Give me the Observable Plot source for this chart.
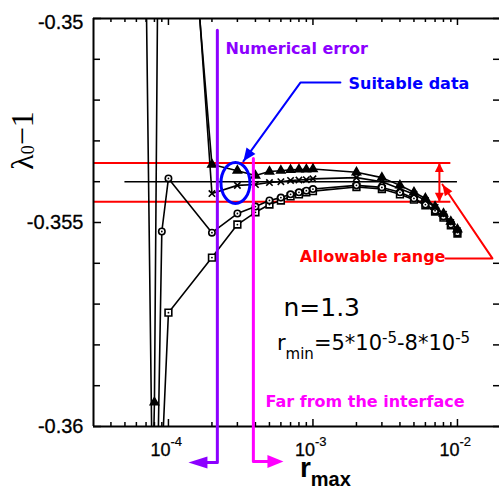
<!DOCTYPE html>
<html><head><meta charset="utf-8">
<script src="https://cdn.jsdelivr.net/npm/d3@7"></script>
<script src="https://cdn.jsdelivr.net/npm/@observablehq/plot@0.6"></script>
<style>html,body{margin:0;padding:0;background:#fff;} svg{display:block;}</style>
</head><body><div id="chart"></div>
<script>
// ---------- data ----------
const rGrid = [2e-4,3e-4,4e-4,5e-4,6e-4,7e-4,8e-4,9e-4,1e-3,2e-3,3e-3,4e-3,5e-3,6e-3,7e-3,8e-3,9e-3,1e-2];
const triR = [7e-5,8e-5,9e-5,1e-4,...rGrid];
const triV = [-0.3693,-0.35941,-0.3362,-0.3408,-0.35358,-0.35373,-0.35385,-0.35375,-0.35373,-0.35371,-0.3537,-0.3537,-0.35369,-0.35377,-0.3539,-0.35409,-0.35426,-0.35441,-0.35461,-0.35478,-0.35498,-0.35517];
const crossR = [1e-4,...rGrid];
const crossV = [-0.3389,-0.35429,-0.35409,-0.35407,-0.35402,-0.354,-0.35397,-0.35396,-0.35395,-0.35393,-0.3539,-0.354,-0.35417,-0.35431,-0.35446,-0.35463,-0.3548,-0.355,-0.3552];
const circR = [7e-5,8e-5,9e-5,1e-4,...rGrid];
const circV = [-0.349,-0.3656,-0.35522,-0.35392,-0.35525,-0.35478,-0.35461,-0.35446,-0.35439,-0.35431,-0.35426,-0.35422,-0.35418,-0.35409,-0.35414,-0.35426,-0.35441,-0.35456,-0.35471,-0.35485,-0.35505,-0.35525];
const sqR = [9e-5,1e-4,...rGrid];
const sqV = [-0.36088,-0.35721,-0.35586,-0.35505,-0.35475,-0.35456,-0.35446,-0.35436,-0.35431,-0.35426,-0.35423,-0.35413,-0.35418,-0.35431,-0.35444,-0.35458,-0.35473,-0.35488,-0.35507,-0.35527];

const refLevel = -0.354;            // black reference line
const refRange = [5e-5, 1e-2];
const allowBand = [-0.35354, -0.35449];  // red lines
const allowX = [3.03e-5, 9e-3];

const xTicksMajor = [1e-4, 1e-3, 1e-2];
const xTickExp = ["-4", "-3", "-2"];
const xTicksMinor = [4e-5,5e-5,6e-5,7e-5,8e-5,9e-5,2e-4,3e-4,4e-4,5e-4,6e-4,7e-4,8e-4,9e-4,2e-3,3e-3,4e-3,5e-3,6e-3,7e-3,8e-3,9e-3];
const yTicksMajor = [-0.35, -0.355, -0.36];
const yTickLabels = ["-0.35", "-0.355", "-0.36"];
const yTicksMinor = [-0.351,-0.352,-0.353,-0.354,-0.356,-0.357,-0.358,-0.359];

// annotation geometry (data coordinates)
const purplePath = [{x:2.18e-4,y:-0.35029},{x:2.18e-4,y:-0.36088},{x:1.54e-4,y:-0.36088}];
const purpleTip = {x:1.375e-4, y:-0.36088};
const magentaPath = [{x:3.87e-4,y:-0.35343},{x:3.87e-4,y:-0.36086},{x:5.6e-4,y:-0.36086}];
const magentaTip = {x:6.25e-4, y:-0.36086};
const bluePath = [{x:1.549e-3,y:-0.35157},{x:8.19e-4,y:-0.35157},{x:3.30e-4,y:-0.3535}];
const blueEllipse = {x:2.909e-4, y:-0.35403};
const redLeader = [{x:7.87e-3,y:-0.35407},{x:1.746e-2,y:-0.35588},{x:8.26e-3,y:-0.35588}];
const redArrowX = 7.5e-3;

const textsStart = [
  {x:2.48e-4, y:-0.350858, t:"Numerical error", c:"#8c00ff"},
  {x:1.761e-3, y:-0.35174, t:"Suitable data", c:"#0000ff"},
  {x:4.69e-4, y:-0.35953, t:"Far from the interface", c:"#ff00ff"}
];
const textsEnd = [
  {x:8.26e-3, y:-0.35596, t:"Allowable range", c:"#ff0000"}
];
const nLabel = {x:6.25e-4, y:-0.35728, t:"n=1.3"};
const rminLabel = {x:5.68e-4, y:-0.35814};

// ---------- helpers ----------
const mk = (R, V) => R.map((r, i) => ({r, v: V[i]}));
const tri = mk(triR, triV), crs = mk(crossR, crossV), cir = mk(circR, circV), sq = mk(sqR, sqV);

function head(angle, L, w) {
  const a = angle * Math.PI / 180, c = Math.cos(a), s = Math.sin(a);
  const rot = (x, y) => [x * c - y * s, x * s + y * c];
  return {draw(ctx) {
    const p1 = rot(-w, L), p2 = rot(w, L);
    ctx.moveTo(0, 0); ctx.lineTo(p1[0], p1[1]); ctx.lineTo(p2[0], p2[1]); ctx.closePath();
  }};
}
function ellipse(rx, ry) {
  const k = 0.5523;
  return {draw(ctx) {
    ctx.moveTo(rx, 0);
    ctx.bezierCurveTo(rx, ry * k, rx * k, ry, 0, ry);
    ctx.bezierCurveTo(-rx * k, ry, -rx, ry * k, -rx, 0);
    ctx.bezierCurveTo(-rx, -ry * k, -rx * k, -ry, 0, -ry);
    ctx.bezierCurveTo(rx * k, -ry, rx, -ry * k, rx, 0);
    ctx.closePath();
  }};
}

const W = 499, H = 493, mL = 93, mR = 0, mT = 18, mB = 67;
const iw = W - mL - mR, ih = H - mT - mB;
const SANS = "Liberation Sans, Arial, sans-serif";
const DJ = "DejaVu Sans, Verdana, sans-serif";

const seriesLine = d => Plot.line(d, {x: "r", y: "v", stroke: "black", strokeWidth: 1.6, clip: true});

const plot = Plot.plot({
  width: W, height: H,
  marginLeft: mL, marginRight: mR, marginTop: mT, marginBottom: mB,
  x: {type: "log", domain: [3.03e-5, 1.954e-2], axis: null},
  y: {domain: [-0.36, -0.35], axis: null},
  style: {background: "white", overflow: "visible"},
  marks: [
    // reference lines
    Plot.ruleY(allowBand, {x1: allowX[0], x2: allowX[1], stroke: "#ff0000", strokeWidth: 2}),
    Plot.ruleY([refLevel], {x1: refRange[0], x2: refRange[1], stroke: "black", strokeWidth: 1.6}),
    // series
    seriesLine(sq), seriesLine(cir), seriesLine(crs), seriesLine(tri),
    Plot.dot(sq, {x: "r", y: "v", symbol: "square", r: 3.8, fill: "white", stroke: "black", strokeWidth: 1.6, clip: true}),
    Plot.dot(sq, {x: "r", y: "v", r: 0.9, fill: "black", clip: true}),
    Plot.dot(cir, {x: "r", y: "v", symbol: "circle", r: 3.2, fill: "white", stroke: "black", strokeWidth: 1.6, clip: true}),
    Plot.dot(cir, {x: "r", y: "v", r: 0.9, fill: "black", clip: true}),
    Plot.dot(crs, {x: "r", y: "v", symbol: "times", r: 3, stroke: "black", strokeWidth: 1.6, clip: true}),
    Plot.dot(tri, {x: "r", y: "v", symbol: "triangle", r: 3.1, fill: "black", stroke: "black", clip: true}),
    // frame
    Plot.ruleX([3.03e-5], {stroke: "black", strokeWidth: 2}),
    Plot.ruleY([-0.35, -0.36], {stroke: "black", strokeWidth: 2}),
    // ticks (inward)
    Plot.tickX(xTicksMajor, {x: d => d, insetTop: ih - 7, stroke: "black", strokeWidth: 1.5}),
    Plot.tickX(xTicksMajor, {x: d => d, insetBottom: ih - 7, stroke: "black", strokeWidth: 1.5}),
    Plot.tickX(xTicksMinor, {x: d => d, insetTop: ih - 4, stroke: "black", strokeWidth: 1.5}),
    Plot.tickX(xTicksMinor, {x: d => d, insetBottom: ih - 4, stroke: "black", strokeWidth: 1.5}),
    Plot.tickY(yTicksMajor, {y: d => d, insetRight: iw - 8, stroke: "black", strokeWidth: 1.5}),
    Plot.tickY(yTicksMinor, {y: d => d, insetRight: iw - 7, stroke: "black", strokeWidth: 1.5}),
    Plot.tickY([...yTicksMajor, ...yTicksMinor], {y: d => d, insetLeft: iw - 6, stroke: "black", strokeWidth: 1.5}),
    // tick labels
    Plot.text(yTicksMajor.slice(0, 1), {y: d => d, frameAnchor: "left", text: () => yTickLabels[0], textAnchor: "end", dx: -10, dy: 4.5, fontSize: 20, fontFamily: SANS, fill: "black", stroke: "black", strokeWidth: 0.3}),
    Plot.text(yTicksMajor.slice(1), {y: d => d, frameAnchor: "left", text: (d, i) => yTickLabels[i + 1], textAnchor: "end", dx: -10, fontSize: 20, fontFamily: SANS, fill: "black", stroke: "black", strokeWidth: 0.3}),
    Plot.text(xTicksMajor, {x: d => d, frameAnchor: "bottom", text: () => "10", textAnchor: "end", lineAnchor: "bottom", dx: 2, dy: 29, fontSize: 18, fontFamily: SANS, fill: "black", stroke: "black", strokeWidth: 0.3}),
    Plot.text(xTicksMajor, {x: d => d, frameAnchor: "bottom", text: (d, i) => xTickExp[i], textAnchor: "start", lineAnchor: "bottom", dx: 2, dy: 19, fontSize: 13, fontFamily: SANS, fill: "black", stroke: "black", strokeWidth: 0.2}),
    // annotations
    Plot.line(purplePath, {x: "x", y: "y", stroke: "#8c00ff", strokeWidth: 3}),
    Plot.dot([purpleTip], {x: "x", y: "y", r: 1, symbol: head(270, 19, 6), fill: "#8c00ff", stroke: "none"}),
    Plot.line(magentaPath, {x: "x", y: "y", stroke: "#ff00ff", strokeWidth: 3}),
    Plot.dot([magentaTip], {x: "x", y: "y", r: 1, symbol: head(90, 16, 6.5), fill: "#ff00ff", stroke: "none"}),
    Plot.dot([blueEllipse], {x: "x", y: "y", r: 1, symbol: ellipse(14.5, 20.5), fill: "none", stroke: "#0000ff", strokeWidth: 3}),
    Plot.line(bluePath, {x: "x", y: "y", stroke: "#0000ff", strokeWidth: 2}),
    Plot.dot(bluePath.slice(2), {x: "x", y: "y", r: 1, symbol: head(215.8, 13, 5.5), fill: "#0000ff", stroke: "none"}),
    Plot.line(redLeader, {x: "x", y: "y", stroke: "#ff0000", strokeWidth: 2}),
    Plot.dot(redLeader.slice(0, 1), {x: "x", y: "y", r: 1, symbol: head(-34, 11, 4.5), fill: "#ff0000", stroke: "none"}),
    Plot.ruleX([redArrowX], {y1: allowBand[0], y2: allowBand[1], stroke: "#ff0000", strokeWidth: 2}),
    Plot.dot([{x: redArrowX, y: allowBand[0]}], {x: "x", y: "y", r: 1, symbol: head(0, 9, 4.5), fill: "#ff0000", stroke: "none"}),
    Plot.dot([{x: redArrowX, y: allowBand[1]}], {x: "x", y: "y", r: 1, symbol: head(180, 9, 4.5), fill: "#ff0000", stroke: "none"}),
    Plot.text(textsStart, {x: "x", y: "y", text: "t", fill: d => d.c, textAnchor: "start", lineAnchor: "bottom", fontSize: 16, fontWeight: "bold", fontFamily: DJ}),
    Plot.text(textsEnd, {x: "x", y: "y", text: "t", fill: d => d.c, textAnchor: "end", lineAnchor: "bottom", fontSize: 16, fontWeight: "bold", fontFamily: DJ}),
    Plot.text([nLabel], {x: "x", y: "y", text: "t", textAnchor: "start", lineAnchor: "bottom", fontSize: 25, fontFamily: DJ, fill: "black"})
  ]
});

// rich text (sub/superscripts) positioned with the plot's own scales
const xs = plot.scale("x"), ys = plot.scale("y");
const svg = d3.select(plot);

// r_min = 5*10^-5 - 8*10^-5
{
  const t = svg.append("text").attr("x", xs.apply(rminLabel.x)).attr("y", ys.apply(rminLabel.y))
    .attr("text-anchor", "start")
    .attr("font-family", DJ).attr("font-size", 21).attr("fill", "black");
  t.append("tspan").text("r");
  t.append("tspan").attr("font-size", 15).attr("dy", 9).text("min");
  t.append("tspan").attr("dy", -9).text("=5*10");
  t.append("tspan").attr("font-size", 15).attr("dy", -7).text("-5");
  t.append("tspan").attr("dy", 7).text("-8*10");
  t.append("tspan").attr("font-size", 15).attr("dy", -7).text("-5");
}
// x axis title r_max
{
  const t = svg.append("text").attr("x", xs.apply(8.19e-4)).attr("y", ys.apply(-0.36) + 51)
    .attr("text-anchor", "start")
    .attr("font-family", SANS).attr("font-weight", "bold").attr("font-size", 28).attr("fill", "black");
  t.append("tspan").text("r");
  t.append("tspan").attr("font-size", 20).attr("dy", 9).text("max");
}
// y axis title λ0−1
{
  const t = svg.append("text").attr("transform", `translate(${mL - 60},140.5) rotate(-90)`)
    .attr("text-anchor", "middle").attr("font-family", "Liberation Serif, Times New Roman, serif")
    .attr("font-size", 32).attr("fill", "black");
  t.append("tspan").text("λ");
  t.append("tspan").attr("font-size", 18).attr("dy", 1).text("0");
  t.append("tspan").attr("dy", -1).text("−1");
}

document.getElementById("chart").appendChild(plot);
</script>
</body></html>
